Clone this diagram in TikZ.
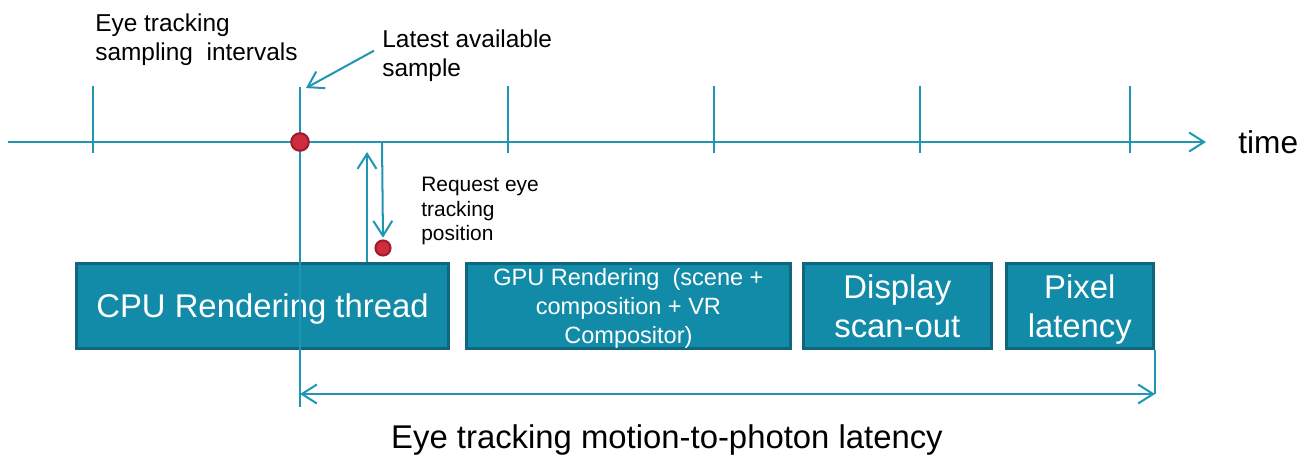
\documentclass[tikz,border=0pt]{standalone}
\usepackage{fontspec}
\setmainfont{Liberation Sans}
\usepackage{tikz}
\usetikzlibrary{arrows.meta, positioning, calc}
\definecolor{tlline}{RGB}{33,150,180}
\definecolor{tlbox}{RGB}{18,139,168}
\definecolor{tledge}{RGB}{16,102,124}
\definecolor{tlred}{RGB}{208,44,64}
\definecolor{tldarkred}{RGB}{160,28,42}

\begin{document}
\begin{tikzpicture}[x=0.02cm, y=-0.02cm,
  stage/.style={rectangle, draw=tledge, fill=tlbox, line width=1.7pt, minimum height=1.7cm, align=center, text=white, inner sep=0pt, text depth=0pt, font=\fontsize{18.7}{22}\selectfont},
  note/.style={anchor=north west, inner sep=0pt, align=left, font=\fontsize{13.9}{17}\selectfont},
  sampledot/.style={circle, draw=tldarkred, fill=tlred, line width=1.2pt, inner sep=0pt, minimum size=0.35cm},
  tline/.style={draw=tlline, line width=1.15pt},
  arr/.style={tline, -{Straight Barb[length=3mm, width=3.8mm]}},
  darr/.style={tline, {Straight Barb[length=3mm, width=3.8mm]}-{Straight Barb[length=3mm, width=3.8mm]}}
]
\useasboundingbox (0,0) rectangle (1313,458);
\node[stage, minimum width=7.44cm] (cpu) at (262.5,306) {CPU Rendering thread};
\node[stage, minimum width=6.48cm, right=0.3cm of cpu, font=\fontsize{13.4}{16.4}\selectfont] (gpu) {GPU Rendering\ \ (scene +\\composition + VR\\Compositor)};
\node[stage, minimum width=3.76cm, right=0.2cm of gpu] (disp) {Display\\scan-out};
\node[stage, minimum width=2.94cm, right=0.24cm of disp] (pix) {Pixel\\latency};
\node[note] (interval) at (95,13) {Eye tracking\\sampling\ \ intervals};
\node[note] (latest) at (382,29) {Latest available\\sample};
\node[note, font=\fontsize{11.9}{13.9}\selectfont] (request) at (421,177) {Request eye\\tracking\\position};
\node[anchor=west, inner sep=0pt, font=\fontsize{18}{22}\selectfont] (timelbl) at (1238,142) {time};
\node[anchor=base, inner sep=0pt, font=\fontsize{18.7}{22}\selectfont] (latency) at (667,448) {Eye tracking motion-to-photon latency};
\coordinate (ax0) at (8,142);
\coordinate (ax1) at (1206,142);
\coordinate (smptop) at (300,87);
\coordinate (smpbot) at (300,407);
\coordinate (reqtip) at (367,152);
\coordinate (reqsrc) at (382,142);
\coordinate (lasttip) at (306,88);
\coordinate (dimleft) at (300,394);
\coordinate (dimright) at (1155,394);
\draw[arr] (ax0) -- (ax1);
\foreach \x in {93,508,714,920,1130}
  \draw[tline] (\x,86) -- (\x,153);
\draw[tline] (smptop) -- (smpbot);
\draw[tline] (dimright |- pix.south) -- (dimright);
\draw[darr] (dimleft) -- (dimright);
\draw[arr] (reqtip |- cpu.north) -- (reqtip);
\draw[arr] ($(latest.west)+(-8,-5)$) -- (lasttip);
\node[sampledot] (sample) at (300,142) {};
\node[sampledot, minimum size=0.3cm] (reqdot) at (383,248) {};
\draw[arr, shorten >=1pt] (reqsrc) -- (reqdot.north);
\end{tikzpicture}
\end{document}
